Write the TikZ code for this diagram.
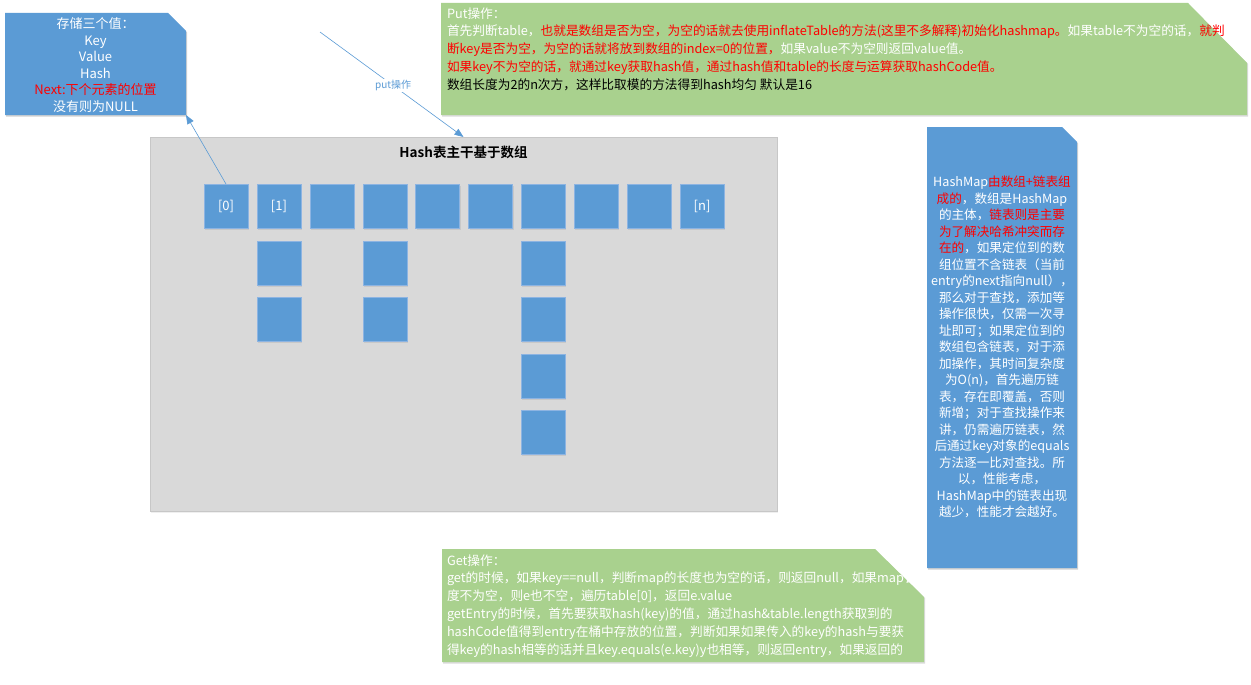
\documentclass[tikz,border=0pt]{standalone}
\usepackage{fontspec}
\setmainfont{Noto Sans CJK SC}[BoldFont={Noto Sans CJK SC Bold}]
\usetikzlibrary{arrows.meta,shadows}
\definecolor{oblue}{HTML}{5B9BD5}
\definecolor{oblueline}{HTML}{8DB4E2}
\definecolor{ogreen}{HTML}{A9D18E}
\definecolor{ogray}{HTML}{D9D9D9}
\definecolor{ored}{HTML}{FF0000}
\newcommand{\myred}[1]{\textcolor{ored}{#1}}
\newcommand{\mywhite}[1]{\textcolor{white}{#1}}
\begin{document}
\begin{tikzpicture}[x=1pt,y=-1pt,
  every node/.style={inner sep=0pt,outer sep=0pt},
  area/.style={anchor=north west},
  cellbox/.style={draw=oblueline,line width=0.4pt,fill=oblue,minimum width=44pt,minimum height=44pt,
    anchor=north west,text=white,font=\fontsize{13}{15}\selectfont,
    drop shadow={opacity=0.18,shadow xshift=1pt,shadow yshift=-1.5pt}},
  conn/.style={draw=oblue,line width=0.6pt,-{Triangle[length=9pt,width=7pt]}},
  lefttext/.style={anchor=north west,align=left,font=\fontsize{12.7}{17.8}\selectfont},
  centertext/.style={align=center,text=white}
]
\useasboundingbox (0,0) rectangle (1251,685);
\fill[white] (0,0) rectangle (1251,685);

% ---- main hash box ----
\node[area,draw=black!22,fill=ogray,minimum width=627pt,minimum height=374pt,
  drop shadow={opacity=0.12,shadow xshift=1pt,shadow yshift=-2pt}] (hashbox) at (150,137) {};
\node[font=\fontsize{13.5}{15}\selectfont\bfseries] (title) at (463.5,152) {Hash表主干基于数组};

\node[cellbox] (b0) at (204,184) {[0]};
\node[cellbox] (b1) at (256.9,184) {[1]};
\node[cellbox] (b2) at (309.8,184) {};
\node[cellbox] (b3) at (362.7,184) {};
\node[cellbox] (b4) at (415.6,184) {};
\node[cellbox] (b5) at (468.5,184) {};
\node[cellbox] (b6) at (521.4,184) {};
\node[cellbox] (b7) at (574.3,184) {};
\node[cellbox] (b8) at (627.2,184) {};
\node[cellbox] (b9) at (680.1,184) {[n]};

\node[cellbox] (c1a) at (256.9,241) {};
\node[cellbox] (c1b) at (256.9,297.5) {};
\node[cellbox] (c3a) at (362.7,241) {};
\node[cellbox] (c3b) at (362.7,297.5) {};
\node[cellbox] (c6a) at (521.4,241) {};
\node[cellbox] (c6b) at (521.4,297.5) {};
\node[cellbox] (c6c) at (521.4,354) {};
\node[cellbox] (c6d) at (521.4,410.5) {};

% ---- note 1 (blue, top left) ----
\node[area,minimum width=181pt,minimum height=102pt] (note1) at (5,13) {};
\fill[black!18] ([xshift=1pt,yshift=-1.5pt]note1.north west) -- ([xshift=-17pt,yshift=-1.5pt]note1.north east)
  -- ([xshift=1pt,yshift=-19.5pt]note1.north east) -- ([xshift=1pt,yshift=-1.5pt]note1.south east)
  -- ([xshift=1pt,yshift=-1.5pt]note1.south west) -- cycle;
\fill[oblue] (note1.north west) -- ([xshift=-18pt]note1.north east) -- ([yshift=-18pt]note1.north east)
  -- (note1.south east) -- (note1.south west) -- cycle;
\node[centertext,font=\fontsize{13}{16.6}\selectfont] (note1text) at ([yshift=-1pt]note1.center)
  {存储三个值：\\Key\\Value\\Hash\\\myred{Next:下个元素的位置}\\没有则为NULL};

% ---- put note (green, top) ----
\node[area,minimum width=806pt,minimum height=112pt] (putnote) at (441,3) {};
\fill[black!14] ([xshift=1pt,yshift=-1.5pt]putnote.north west) -- ([xshift=-58pt,yshift=-1.5pt]putnote.north east)
  -- ([xshift=1pt,yshift=-61pt]putnote.north east) -- ([xshift=1pt,yshift=-1.5pt]putnote.south east)
  -- ([xshift=1pt,yshift=-1.5pt]putnote.south west) -- cycle;
\fill[ogreen] (putnote.north west) -- ([xshift=-59pt]putnote.north east) -- ([yshift=-60pt]putnote.north east)
  -- (putnote.south east) -- (putnote.south west) -- cycle;
\node[lefttext] (puttext) at (447,7.5) {\mywhite{Put操作：}\\
\mywhite{首先判断table，}\myred{也就是数组是否为空，为空的话就去使用inflateTable的方法(这里不多解释)初始化hashmap。}\mywhite{如果table不为空的话，}\myred{就判}\\
\myred{断key是否为空，为空的话就将放到数组的index=0的位置，}\mywhite{如果value不为空则返回value值。}\\
\myred{如果key不为空的话，就通过key获取hash值，通过hash值和table的长度与运算获取hashCode值。}\\
数组长度为2的n次方，这样比取模的方法得到hash均匀 默认是16};

% ---- right note (blue) ----
\node[area,minimum width=150pt,minimum height=441pt] (rnote) at (927,127) {};
\fill[black!18] ([xshift=1pt,yshift=-1.5pt]rnote.north west) -- ([xshift=-14pt,yshift=-1.5pt]rnote.north east)
  -- ([xshift=1pt,yshift=-16.5pt]rnote.north east) -- ([xshift=1pt,yshift=-1.5pt]rnote.south east)
  -- ([xshift=1pt,yshift=-1.5pt]rnote.south west) -- cycle;
\fill[oblue] (rnote.north west) -- ([xshift=-15pt]rnote.north east) -- ([yshift=-15pt]rnote.north east)
  -- (rnote.south east) -- (rnote.south west) -- cycle;
\node[centertext,font=\fontsize{12.6}{16.5}\selectfont] (rnotetext) at ([yshift=0.5pt]rnote.center)
  {HashMap\myred{由数组+链表组}\\
   \myred{成的}，数组是HashMap\\
   的主体，\myred{链表则是主要}\\
   \myred{为了解决哈希冲突而存}\\
   \myred{在的}，如果定位到的数\\
   组位置不含链表（当前\\
   entry的next指向null），\\
   那么对于查找，添加等\\
   操作很快，仅需一次寻\\
   址即可；如果定位到的\\
   数组包含链表，对于添\\
   加操作，其时间复杂度\\
   为O(n)，首先遍历链\\
   表，存在即覆盖，否则\\
   新增；对于查找操作来\\
   讲，仍需遍历链表，然\\
   后通过key对象的equals\\
   方法逐一比对查找。所\\
   以，性能考虑，\\
   HashMap中的链表出现\\
   越少，性能才会越好。};

% ---- get note (green, bottom) ----
\node[area,minimum width=482pt,minimum height=113pt] (getnote) at (442,549) {};
\fill[black!14] ([xshift=1pt,yshift=-1.5pt]getnote.north west) -- ([xshift=-48pt,yshift=-1.5pt]getnote.north east)
  -- ([xshift=1pt,yshift=-49pt]getnote.north east) -- ([xshift=1pt,yshift=-1.5pt]getnote.south east)
  -- ([xshift=1pt,yshift=-1.5pt]getnote.south west) -- cycle;
\fill[ogreen] (getnote.north west) -- ([xshift=-49pt]getnote.north east) -- ([yshift=-48pt]getnote.north east)
  -- (getnote.south east) -- (getnote.south west) -- cycle;
\node[lefttext,text=white] (gettext) at (447,554.5) {Get操作：\\
get的时候，如果key==null，判断map的长度也为空的话，则返回null，如果map长\\
度不为空，则e也不空，遍历table[0]，返回e.value\\
getEntry的时候，首先要获取hash(key)的值，通过hash\&table.length获取到的\\
hashCode值得到entry在桶中存放的位置，判断如果如果传入的key的hash与要获\\
得key的hash相等的话并且key.equals(e.key)y也相等，则返回entry，如果返回的};

% ---- connectors ----
\coordinate (pstart) at (320,32);
\draw[conn] (pstart) -- node[pos=0.51,fill=white,text=oblue,inner sep=1pt,font=\fontsize{10}{12}\selectfont] (plabel) {put操作} (hashbox.north);
\draw[conn] (b0.north) -- (note1.south east);
\end{tikzpicture}
\end{document}
